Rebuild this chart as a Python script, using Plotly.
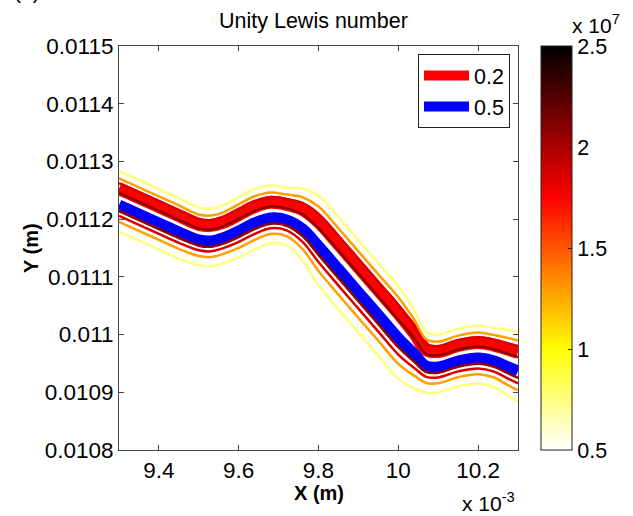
import plotly.graph_objects as go
from plotly.colors import sample_colorscale

# ---- data ----
X_MM = [9.30, 9.35, 9.40, 9.45, 9.50, 9.53, 9.56, 9.60, 9.64, 9.68, 9.72, 9.76,
        9.80, 9.85, 9.90, 9.95, 10.00, 10.04, 10.07, 10.10, 10.15, 10.20, 10.24,
        10.27, 10.30]                         # x in units of 1e-3 m
FRONT_Y = [0.0112246, 0.0112090, 0.0111934, 0.0111778, 0.0111640, 0.0111622,
           0.0111674, 0.0111795, 0.0111934, 0.0112021, 0.0111986, 0.0111830,
           0.0111536, 0.0111137, 0.0110738, 0.0110340, 0.0109941, 0.0109664,
           0.0109456, 0.0109438, 0.0109542, 0.0109594, 0.0109542, 0.0109456,
           0.0109369]                         # c = 0.5 iso-line (m)
BAND_STRETCH = [1.05, 1.05, 1.05, 1.05, 1.0, 1.0, 1.0, 1.05, 1.05, 1.0, 1.0, 1.25,
                1.55, 1.6, 1.6, 1.6, 1.6, 1.35, 1.05, 1.0, 1.0, 1.0, 1.02, 1.12, 1.2]
C02_OFFSET = 27e-6                            # c = 0.2 line above the c = 0.5 line
CONTOUR_VALUES = [0.76e7, 1.28e7, 1.86e7, 2.08e7, 2.08e7, 1.86e7, 1.28e7, 0.76e7]
CONTOUR_OFFSETS = [56e-6, 44e-6, 36e-6, 20e-6, -10e-6, -18e-6, -28e-6, -44e-6]
CLINE_NAMES = ["0.2", "0.5"]
CB_MIN, CB_MAX = 0.5e7, 2.5e7
CB_TICKS = [0.5e7, 1.0e7, 1.5e7, 2.0e7, 2.5e7]
CB_TICKTEXT = ["0.5", "1", "1.5", "2", "2.5"]
X_TICKS = [9.4, 9.6, 9.8, 10.0, 10.2]
X_TICKTEXT = ["9.4", "9.6", "9.8", "10", "10.2"]
Y_TICKS = [0.0108, 0.0109, 0.0110, 0.0111, 0.0112, 0.0113, 0.0114, 0.0115]
Y_TICKTEXT = ["0.0108", "0.0109", "0.011", "0.0111", "0.0112", "0.0113", "0.0114", "0.0115"]

HOT_R = [[0, "rgb(255,255,255)"], [0.25, "rgb(255,255,0)"],
         [0.625, "rgb(255,0,0)"], [1, "rgb(0,0,0)"]]

FONT = "Liberation Sans, Arial, sans-serif"


def shifted(offset):
    return [fy + offset * s for fy, s in zip(FRONT_Y, BAND_STRETCH)]


fig = go.Figure()

# thick progress-variable lines
fig.add_trace(go.Scatter(x=X_MM, y=shifted(C02_OFFSET), mode="lines", name=CLINE_NAMES[0],
                         line=dict(color="rgb(255,0,0)", width=13, shape="spline", smoothing=1.0)))
fig.add_trace(go.Scatter(x=X_MM, y=FRONT_Y, mode="lines", name=CLINE_NAMES[1],
                         line=dict(color="rgb(0,0,255)", width=11, shape="spline", smoothing=1.0)))

# heat-release contour lines
for v, off in zip(CONTOUR_VALUES, CONTOUR_OFFSETS):
    col = sample_colorscale(HOT_R, [(v - CB_MIN) / (CB_MAX - CB_MIN)])[0]
    fig.add_trace(go.Scatter(x=X_MM, y=shifted(off), mode="lines", showlegend=False,
                             hoverinfo="skip",
                             line=dict(color=col, width=2.5, shape="spline", smoothing=1.0)))

# colorbar carrier
fig.add_trace(go.Scatter(
    x=[X_MM[0]], y=[FRONT_Y[0]], mode="markers", showlegend=False, hoverinfo="skip",
    marker=dict(size=0.1, opacity=0, color=[CB_MIN], cmin=CB_MIN, cmax=CB_MAX,
                colorscale=HOT_R, showscale=True,
                colorbar=dict(x=(541 - 119) / 399, xanchor="left", xpad=0,
                              y=0.5, yanchor="middle", len=404, lenmode="pixels", ypad=0,
                              thickness=31, thicknessmode="pixels",
                              outlinewidth=1, outlinecolor="#222",
                              tickvals=CB_TICKS, ticktext=CB_TICKTEXT,
                              ticks="inside", ticklen=4, tickcolor="#222",
                              tickfont=dict(size=21.5, color="black", family=FONT)))))

axis_common = dict(showline=True, linecolor="#444", linewidth=1, mirror="ticks",
                   ticks="inside", ticklen=5, tickcolor="#444", showgrid=False,
                   zeroline=False, tickfont=dict(size=22.5, color="black", family=FONT))

fig.update_layout(
    width=633, height=516,
    margin=dict(l=119, r=115, t=46, b=66),
    paper_bgcolor="white", plot_bgcolor="white",
    font=dict(family=FONT, size=21, color="black"),
    xaxis=dict(range=[9.3, 10.3], tickvals=X_TICKS, ticktext=X_TICKTEXT, **axis_common),
    yaxis=dict(range=[0.0108, 0.0115], tickvals=Y_TICKS, ticktext=Y_TICKTEXT, **axis_common),
    legend=dict(x=0.98, xanchor="right", y=0.98, yanchor="top", bgcolor="white",
                bordercolor="#222", borderwidth=1, font=dict(size=21.5, family=FONT),
                tracegroupgap=0, itemwidth=45),
    showlegend=True,
    annotations=[
        dict(text="Unity Lewis number", xref="paper", yref="paper", x=(313 - 119) / 399,
             y=1 + (46 - 21) / 404, xanchor="center", yanchor="middle", showarrow=False,
             font=dict(size=21.5, family=FONT)),
        dict(text="<b>X (m)</b>", xref="paper", yref="paper", x=0.5, y=-(493 - 450) / 404,
             xanchor="center", yanchor="middle", showarrow=False, font=dict(size=20, family=FONT)),
        dict(text="<b>Y (m)</b>", xref="paper", yref="paper", x=(31 - 119) / 399, y=0.5,
             xanchor="center", yanchor="middle", textangle=-90, showarrow=False,
             font=dict(size=20, family=FONT)),
        dict(text="x 10<sup>-3</sup>", xref="paper", yref="paper", x=(517 - 119) / 399,
             y=-(502 - 450) / 404, xanchor="right", yanchor="middle", showarrow=False,
             font=dict(size=21, family=FONT)),
        dict(text="x 10<sup>7</sup>", xref="paper", yref="paper", x=(570 - 119) / 399,
             y=1 + (46 - 24) / 404, xanchor="left", yanchor="middle", showarrow=False,
             font=dict(size=21, family=FONT)),
        dict(text="(a)", xref="paper", yref="paper", x=(12 - 119) / 399,
             y=1 + (46 - 5) / 404, xanchor="left", yanchor="bottom", showarrow=False,
             font=dict(size=21, family=FONT)),
    ],
)

fig.write_html("out.html", config={"displayModeBar": False},
               post_script="document.body.style.margin='0';")
